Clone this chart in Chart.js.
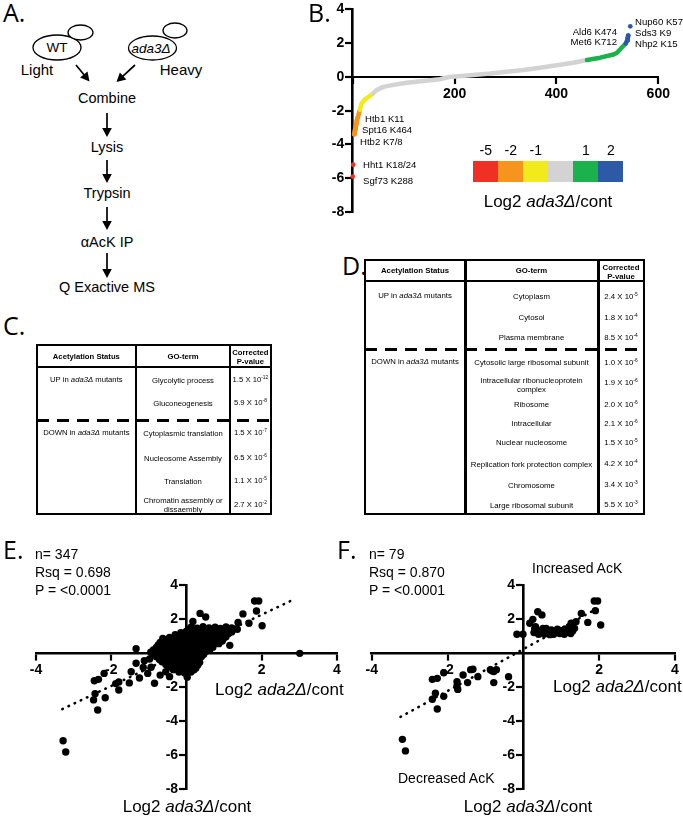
<!DOCTYPE html>
<html><head><meta charset="utf-8"><title>Figure</title>
<script src="https://cdn.jsdelivr.net/npm/chart.js@4.4.1/dist/chart.umd.min.js"></script>
<style>
html,body{margin:0;padding:0;background:#fff;}
#fig{position:relative;width:683px;height:820px;overflow:hidden;font-family:"Liberation Sans",Arial,Helvetica,sans-serif;color:#000;}
.t{position:absolute;white-space:nowrap;line-height:1.15;}
.pl{position:absolute;font-family:"Open Sans","Liberation Sans",sans-serif;font-size:25px;line-height:1;}
canvas{position:absolute;}
.ln{position:absolute;background:#000;}
sup{font-size:0.62em;vertical-align:0;position:relative;top:-0.55em;}
</style></head>
<body><div id="fig">
<svg id="flow" width="220" height="300" style="position:absolute;left:0;top:0"></svg>
<canvas id="cB" width="383" height="235" style="left:300px;top:0;width:383px;height:235px"></canvas>
<canvas id="cE" width="345" height="280" style="left:0;top:540px;width:345px;height:280px"></canvas>
<canvas id="cF" width="338" height="280" style="left:345px;top:540px;width:338px;height:280px"></canvas>
</div>
<script>
// ---------------- DATA ----------------
// Panel B: sorted acetylation sites (rank) vs Log2 ada3Δ/cont
const bRank      = [0, 1, 3, 4, 5, 6, 7, 8, 10, 12, 14, 17, 22, 28, 34, 40, 47, 60, 80, 106, 139, 171, 190, 237, 270, 302, 335, 368, 401, 433, 460, 486, 512, 519, 528, 536, 539, 540, 541, 545];
const bLog2Ada3  = [-5.9, -5.2, -3.4, -3.25, -3.1, -2.95, -2.8, -2.6, -2.4, -2.2, -1.95, -1.6, -1.4, -1.25, -1.12, -0.98, -0.78, -0.59, -0.47, -0.35, -0.24, -0.14, 0.0, 0.12, 0.2, 0.31, 0.41, 0.55, 0.69, 0.84, 1.0, 1.14, 1.33, 1.43, 1.73, 1.98, 2.16, 2.31, 2.45, 3.0];
const bXTicks = [0, 200, 400, 600];
const bYTicks = [-8, -6, -4, -2, 0, 2, 4];
const bScaleLabels = ['-5', '-2', '-1', '', '1', '2'];
const bScaleColors = ['#ee3124', '#f7941d', '#f3ea1c', '#d3d3d3', '#1bb14c', '#2d59a7'];
const bSiteLabels = ['Nup60 K57', 'Sds3 K9', 'Nhp2 K15', 'Ald6 K474', 'Met6 K712', 'Htb1 K11', 'Spt16 K464', 'Htb2 K7/8', 'Hht1 K18/24', 'Sgf73 K288'];

// Panel E: all sites, Log2 ada2Δ/cont (x) vs Log2 ada3Δ/cont (y)
const eAda2 = [-3.28,-3.21,3.01,1.81,1.92,1.86,2.01,1.66,1.50,1.37,1.15,0.36,0.51,0.17,-1.34,-0.63,-0.85,-0.45,-2.45,-2.34,-2.19,-2.43,-2.47,-2.16,-2.36,-1.88,-1.80,-1.80,-1.52,-1.47,-1.34,-1.25,-1.12,-1.03,-0.94,-1.15,-0.98,-0.55,-0.70,
 0.12,0.28,0.44,0.60,0.76,0.90,1.05,1.20,
 0.05,0.20,0.35,0.52,0.68,0.82,0.97,1.12,1.28,
 -0.15,0.00,0.15,0.30,0.45,0.60,0.75,0.90,1.05,1.20,1.35,
 -0.30,-0.08,0.08,0.22,0.38,0.52,0.68,0.82,0.98,1.12,
 -0.45,-0.30,-0.15,0.00,0.15,0.30,0.45,0.60,0.75,0.90,1.05,
 -0.58,-0.38,-0.22,-0.08,0.08,0.22,0.38,0.52,0.68,0.82,0.98,
 -0.70,-0.55,-0.40,-0.25,-0.10,0.05,0.20,0.35,0.50,0.65,0.80,0.95,
 -0.75,-0.60,-0.45,-0.32,-0.18,-0.02,0.12,0.28,0.42,0.58,0.72,0.86,
 -0.80,-0.65,-0.50,-0.35,-0.20,-0.05,0.10,0.25,0.40,0.55,0.70,
 -0.88,-0.72,-0.58,-0.42,-0.28,-0.12,0.02,0.18,0.32,0.48,0.62,
 -0.95,-0.80,-0.65,-0.50,-0.35,-0.20,-0.05,0.10,0.25,0.40,0.52,
 -0.88,-0.72,-0.58,-0.42,-0.28,-0.12,0.02,0.18,0.32,0.46,
 -0.80,-0.65,-0.50,-0.35,-0.20,-0.05,0.10,0.25,0.40,
 -0.72,-0.58,-0.42,-0.28,-0.12,0.02,0.18,0.32,
 -0.65,-0.50,-0.35,-0.20,-0.05,0.10,0.25,0.35,
 -0.55,-0.40,-0.25,-0.10,0.05,0.20,0.30,
 -0.45,-0.30,-0.15,0.00,0.15,0.25,
 -0.35,-0.20,-0.05,0.10,0.20,
 -0.20,-0.05,0.12,0.02];
const eAda3 = [-5.16,-5.82,-0.02,3.06,3.06,2.47,1.60,1.75,2.30,1.80,0.45,2.33,2.12,1.85,0.25,0.86,-1.78,-1.39,-1.63,-1.55,-1.20,-2.40,-2.76,-2.63,-3.35,-1.80,-1.70,-2.18,-1.76,-1.10,-0.60,-1.47,-0.45,-1.20,-0.84,-0.85,-0.35,-1.10,-1.30,
 1.52,1.46,1.55,1.47,1.52,1.44,1.53,1.47,
 1.36,1.40,1.35,1.38,1.34,1.39,1.36,1.37,1.42,
 1.20,1.28,1.22,1.30,1.24,1.20,1.28,1.22,1.30,1.24,1.40,
 1.08,1.12,1.06,1.11,1.09,1.13,1.07,1.10,1.12,1.14,
 0.92,0.98,0.90,0.97,0.93,1.00,0.92,0.97,0.90,0.98,0.95,
 0.78,0.82,0.77,0.81,0.79,0.83,0.76,0.80,0.82,0.79,0.84,
 0.62,0.68,0.60,0.67,0.63,0.70,0.62,0.66,0.60,0.68,0.64,0.70,
 0.48,0.52,0.47,0.51,0.49,0.53,0.46,0.50,0.52,0.49,0.51,0.55,
 0.33,0.38,0.30,0.37,0.32,0.38,0.30,0.36,0.33,0.38,0.34,
 0.18,0.22,0.17,0.21,0.19,0.23,0.16,0.20,0.22,0.19,0.21,
 0.05,0.02,0.08,0.00,0.06,0.02,0.08,0.00,0.06,0.02,0.10,
 -0.08,-0.12,-0.07,-0.11,-0.09,-0.13,-0.06,-0.10,-0.12,-0.08,
 -0.22,-0.28,-0.20,-0.27,-0.23,-0.30,-0.22,-0.27,-0.20,
 -0.38,-0.42,-0.37,-0.41,-0.39,-0.43,-0.36,-0.40,
 -0.52,-0.58,-0.50,-0.57,-0.52,-0.58,-0.50,-0.55,
 -0.68,-0.72,-0.67,-0.71,-0.69,-0.73,-0.70,
 -0.82,-0.88,-0.80,-0.86,-0.82,-0.88,
 -0.98,-1.02,-0.97,-1.01,-0.99,
 -1.12,-1.18,-1.12,-1.42];
const eFitX = [-3.3, 2.9];
const eFitY = [-3.3, 3.2];

// Panel F: significantly changed sites
const fAda2 = [-3.19,-3.11,-2.40,-2.27,-2.10,-2.32,-2.40,-2.10,-2.27,-1.75,-1.75,-1.73,-1.59,-1.47,-1.39,-1.33,-1.20,-0.87,-0.78,-0.71,-0.78,-0.39,-0.83,
 -0.17,-0.01,0.17,0.25,0.38,0.49,0.32,1.26,1.39,1.53,1.70,1.87,1.96,1.90,2.04,
 0.28,0.35,0.40,0.47,0.52,0.56,0.62,0.68,0.74,0.80,0.85,0.90,0.96,1.02,1.08,1.14,1.20,1.25,1.30,1.35,0.30,0.60,0.70,0.45,1.10];
const fAda3 = [-5.08,-5.76,-1.55,-1.49,-1.16,-2.37,-2.72,-2.55,-3.29,-1.69,-1.94,-2.14,-1.29,-1.74,-0.98,-0.96,-1.39,-0.98,-1.09,-0.98,-1.74,-1.39,-1.05,
 1.10,1.10,1.75,1.98,2.43,2.24,1.55,1.75,1.84,2.33,1.80,3.06,3.06,2.49,1.65,
 1.20,1.38,1.10,1.28,1.45,1.12,1.30,1.18,1.36,1.10,1.25,1.40,1.15,1.30,1.10,1.22,1.38,1.15,1.30,1.45,1.42,1.45,1.08,1.15,1.42];
const fFitX = [-3.24, 1.85];
const fFitY = [-3.76, 2.5];
const efXTicks = [-4, -2, 0, 2, 4];
const efYTicks = [-8, -6, -4, -2, 0, 2, 4];

// Tables
const cTerms = ['Glycolytic process','Gluconeogenesis','Cytoplasmic translation','Nucleosome Assembly','Translation','Chromatin assembly or<br>dissaembly'];
const cMant  = ['1.5','5.9','1.5','6.5','1.1','2.7'];
const cExp   = ['-12','-8','-7','-6','-5','-2'];
const dTerms = ['Cytoplasm','Cytosol','Plasma membrane','Cytosolic large ribosomal subunit','Intracellular ribonucleoprotein<br>complex','Ribosome','Intracellular','Nuclear nucleosome','Replication fork protection complex','Chromosome','Large ribosomal subunit'];
const dMant  = ['2.4','1.8','8.5','1.0','1.9','2.0','2.1','1.5','4.2','3.4','5.5'];
const dExp   = ['-5','-4','-4','-6','-6','-6','-6','-5','-4','-3','-3'];
const flowSteps = ['Combine','Lysis','Trypsin','&alpha;AcK IP','Q Exactive MS'];

// ---------------- LAYOUT HELPERS ----------------
const fig = document.getElementById('fig');
function T(html, x, y, size, align, extra) {
  align = align || 'center';
  const d = document.createElement('div');
  d.className = 't';
  d.innerHTML = html;
  const tx = align === 'center' ? '-50%' : (align === 'right' ? '-100%' : '0');
  d.style.cssText = `left:${x}px;top:${y}px;font-size:${size}px;transform:translate(${tx},-50%);text-align:${align};${extra||''}`;
  fig.appendChild(d);
  return d;
}
function box(l, t, w, h, bg) {
  const d = document.createElement('div');
  d.className = 'ln';
  d.style.cssText = `left:${l}px;top:${t}px;width:${w}px;height:${h}px;` + (bg ? `background:${bg};` : '');
  fig.appendChild(d);
}
function H(x1, x2, y, w) { box(x1, y - w/2, x2 - x1, w); }
function V(x, y1, y2, w) { box(x - w/2, y1, w, y2 - y1); }
function rect(l, t, r, b, w) { H(l - w/2, r + w/2, t, w); H(l - w/2, r + w/2, b, w); V(l, t, b, w); V(r, t, b, w); }
function dashed(x1, x2, y, w) { box(x1, y - w/2, x2 - x1, w, 'repeating-linear-gradient(90deg,#000 0 12px,transparent 12px 20px)'); }
function pval(m, e) { return `${m} X 10<sup>${e}</sup>`; }

// Panel letters
[['A.',3,0],['B.',308,0],['C.',3,313],['D.',342,253],['E.',3,537],['F.',337,537]].forEach(p => {
  const d = document.createElement('div'); d.className = 'pl'; d.textContent = p[0];
  d.style.left = p[1] + 'px'; d.style.top = p[2] + 'px'; fig.appendChild(d);
});

// ---------------- PANEL A ----------------
(function(){
  const svg = document.getElementById('flow');
  function arrow(x1, y1, x2, y2) {
    const dx = x2 - x1, dy = y2 - y1, L = Math.hypot(dx, dy), ux = dx / L, uy = dy / L;
    const hl = 9, hw = 4.8, bx = x2 - ux * hl, by = y2 - uy * hl, px = -uy, py = ux;
    return `<line x1="${x1}" y1="${y1}" x2="${bx + ux}" y2="${by + uy}" stroke="#000" stroke-width="1.7"/>` +
      `<polygon points="${x2},${y2} ${bx + px*hw},${by + py*hw} ${bx - px*hw},${by - py*hw}" fill="#000"/>`;
  }
  let s = '';
  s += '<ellipse cx="57" cy="47.5" rx="24" ry="12.5" fill="#fff" stroke="#000" stroke-width="1.3"/>';
  s += '<ellipse cx="80.5" cy="32.5" rx="12.5" ry="7.5" fill="#fff" stroke="#000" stroke-width="1.3"/>';
  s += '<ellipse cx="152.5" cy="48" rx="24" ry="12" fill="#fff" stroke="#000" stroke-width="1.3"/>';
  s += '<ellipse cx="175" cy="30.5" rx="12" ry="7.5" fill="#fff" stroke="#000" stroke-width="1.3"/>';
  s += arrow(76, 65, 89.5, 81.5);
  s += arrow(135, 65, 116.5, 82);
  [[113,137],[160,183],[207,230],[253,278]].forEach(a => { s += arrow(107, a[0], 107, a[1]); });
  svg.innerHTML = s;
  T('WT', 57, 48, 13.5);
  T('<i>ada3&Delta;</i>', 151, 49, 13.5);
  T('Light', 37, 70, 15);
  T('Heavy', 181, 70, 15);
  const ys = [98, 147, 193, 242, 287];
  flowSteps.forEach((st, i) => T(st, 107, ys[i], 14.5));
})();

// ---------------- TABLE C ----------------
(function(){
  const L = 36.7, R = 270.7, TOP = 345, BOT = 514, c1 = 136, c2 = 230;
  rect(L, TOP, R, BOT, 2);
  V(c1, TOP, BOT, 2.6); V(c2, TOP, BOT, 2.6);
  H(L, R, 367, 2);
  dashed(L, R, 420, 3);
  const fs = 7.7, m1 = (L + c1) / 2, m2 = (c1 + c2) / 2, m3 = (c2 + R) / 2;
  T('<b>Acetylation Status</b>', m1, 356.5, fs);
  T('<b>GO-term</b>', m2, 356.5, fs);
  T('<b>Corrected<br>P-value</b>', m3, 356.5, fs, 'center', 'line-height:9px;');
  T('UP in <i>ada3&Delta;</i> mutants', m1, 380, fs);
  T('DOWN in <i>ada3&Delta;</i> mutants', m1, 433, fs);
  const rowY = [380, 403, 433, 458, 481, 504.5];
  cTerms.forEach((t, i) => {
    T(t, m2, rowY[i], fs, 'center', 'line-height:9px;');
    T(pval(cMant[i], cExp[i]), m3, rowY[i], fs);
  });
})();

// ---------------- TABLE D ----------------
(function(){
  const L = 365, R = 644, TOP = 260, BOT = 514, c1 = 465, c2 = 598;
  rect(L, TOP, R, BOT, 2);
  V(c1, TOP, BOT, 3); V(c2, TOP, BOT, 3);
  H(L, R, 281, 2);
  dashed(L, R, 349, 3);
  const fs = 7.8, m1 = (L + c1) / 2, m2 = (c1 + c2) / 2, m3 = (c2 + R) / 2;
  T('<b>Acetylation Status</b>', m1, 271, fs);
  T('<b>GO-term</b>', m2, 271, fs);
  T('<b>Corrected<br>P-value</b>', m3, 272, fs, 'center', 'line-height:9px;');
  T('UP in <i>ada3&Delta;</i> mutants', m1, 296, fs);
  T('DOWN in <i>ada3&Delta;</i> mutants', m1, 362, fs);
  const rowY = [296, 317, 337, 362, 384.5, 404, 423, 442, 464, 485, 505];
  const pY   = [297, 318, 338, 363, 383, 405, 424, 443, 464, 485, 505];
  dTerms.forEach((t, i) => {
    T(t, m2, rowY[i], fs, 'center', 'line-height:9px;');
    T(pval(dMant[i], dExp[i]), m3, pY[i], fs);
  });
})();

// ---------------- CHARTS ----------------
const TICKFONT = { family: '"Liberation Sans", Arial, sans-serif', size: 14, weight: 'bold' };
// trail: spaces appended so right-aligned y labels sit left of the tick marks
function makeScale(min, max, tickVals, position, hideZero, borderW, pad, trail) {
  return {
    type: 'linear', min: min, max: max, position: position,
    afterBuildTicks: s => { s.ticks = tickVals.map(v => ({ value: v })); },
    afterFit: s => { if (s.isHorizontal()) s.height = 0; else s.width = 0; },
    ticks: { autoSkip: false, maxRotation: 0, minRotation: 0, color: '#000', font: TICKFONT, padding: pad,
             callback: v => (hideZero && v === 0) ? '' : String(v) + (trail || '') },
    grid: { display: true, drawOnChartArea: false, drawTicks: true, tickLength: 6, tickWidth: 2.2,
            tickColor: '#000', color: '#000', lineWidth: 2 },
    border: { display: true, color: '#000', width: borderW }
  };
}
function baseOptions(pad, xs, ys) {
  return {
    responsive: false, animation: false, devicePixelRatio: 1, events: [],
    layout: { padding: pad },
    plugins: { legend: { display: false }, tooltip: { enabled: false } },
    scales: { x: xs, y: ys }
  };
}
function colorFor(v) {
  if (v <= -5) return bScaleColors[0];
  if (v < -2) return bScaleColors[1];
  if (v < -1) return bScaleColors[2];
  if (v <= 1) return bScaleColors[3];
  if (v <= 2) return bScaleColors[4];
  return bScaleColors[5];
}

// Panel B
new Chart(document.getElementById('cB'), {
  type: 'scatter',
  data: { datasets: [{
    data: bRank.map((r, i) => ({ x: r, y: bLog2Ada3[i] })),
    showLine: true, clip: false,
    borderWidth: 4.5, borderCapStyle: 'round', borderJoinStyle: 'round',
    segment: {
      borderColor: c => {
        const a = c.p0.parsed.y, b = c.p1.parsed.y;
        if (Math.abs(a - b) > 0.5) return 'rgba(0,0,0,0)';
        return colorFor((a + b) / 2);
      }
    },
    pointRadius: c => Math.abs(c.raw.y) >= 2 ? 2.4 : 0,
    pointBackgroundColor: c => colorFor(c.raw.y),
    pointBorderWidth: 0
  }]},
  options: baseOptions({ left: 52.7, right: 24.7, top: 8, bottom: 23 },
    makeScale(0, 600, bXTicks, { y: 0 }, true, 2, 3, ''),
    makeScale(-8, 4, bYTicks, { x: 0 }, false, 2.6, 1, '\u2009\u2009\u2009'))
});

// Panel B colour key and site labels
(function(){
  const x0 = 473.3, w = 25;
  bScaleColors.forEach((c, i) => {
    box(x0 + i * w, 161, w, 21, c);
    if (bScaleLabels[i]) T(bScaleLabels[i], x0 + i * w + w / 2, 150, 14);
  });
  T('Log2 <i>ada3&Delta;</i>/cont', 548, 202, 17);
  const pos = [[635,22,'left'],[635,33,'left'],[635,44,'left'],[617,32,'right'],[617,42,'right'],
               [365,119,'left'],[362,130,'left'],[360,142,'left'],[363,165,'left'],[363,181,'left']];
  bSiteLabels.forEach((s, i) => T(s, pos[i][0], pos[i][1], 9.6, pos[i][2]));
})();

function scatterChart(id, xs, ys, fx, fy, pad) {
  return new Chart(document.getElementById(id), {
    type: 'scatter',
    data: { datasets: [
      { data: xs.map((x, i) => ({ x: x, y: ys[i] })), pointRadius: 3.7, pointBackgroundColor: '#000',
        pointBorderWidth: 0, clip: false },
      { data: fx.map((x, i) => ({ x: x, y: fy[i] })), showLine: true, pointRadius: 0, borderColor: '#000',
        borderWidth: 2.6, borderDash: [0.5, 6.3], borderCapStyle: 'round', clip: false }
    ]},
    options: baseOptions(pad,
      makeScale(-4, 4, efXTicks, { y: 0 }, true, 2.6, 3, ''),
      makeScale(-8, 4, efYTicks, { x: 0 }, true, 2.6, 1, '\u2009\u2009\u2009'))
  });
}
scatterChart('cE', eAda2, eAda3, eFitX, eFitY, { left: 36, right: 8, top: 45, bottom: 31 });
scatterChart('cF', fAda2, fAda3, fFitX, fFitY, { left: 26.7, right: 8, top: 45, bottom: 31 });

// Panel E / F texts
T('n= 347', 35, 554, 14, 'left');
T('Rsq = 0.698', 35, 572, 14, 'left');
T('P = &lt;0.0001', 35, 590, 14, 'left');
T('Log2 <i>ada2&Delta;</i>/cont', 215, 690, 17, 'left');
T('Log2 <i>ada3&Delta;</i>/cont', 187, 807, 17);
T('n= 79', 369, 554, 14, 'left');
T('Rsq = 0.870', 369, 572, 14, 'left');
T('P = &lt;0.0001', 369, 590, 14, 'left');
T('Increased AcK', 532, 568, 14, 'left');
T('Decreased AcK', 398, 778, 14, 'left');
T('Log2 <i>ada2&Delta;</i>/cont', 553, 687, 17, 'left');
T('Log2 <i>ada3&Delta;</i>/cont', 528, 807, 17);
</script>
</body></html>
